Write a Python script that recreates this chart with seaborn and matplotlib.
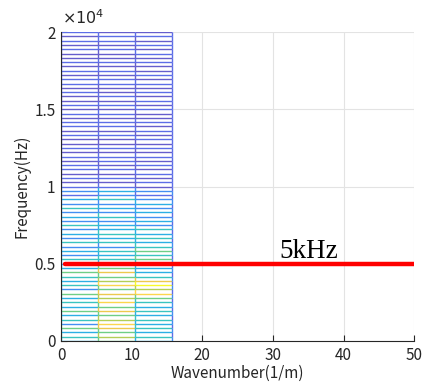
import numpy as np
import matplotlib
matplotlib.use("Agg")
import matplotlib.pyplot as plt
import seaborn as sns
from matplotlib.collections import LineCollection
from matplotlib.colors import LinearSegmentedColormap

# mesh grid: wavenumber columns and frequency rows
wavenumbers = [0.0, 5.236, 10.472, 15.708]
frequencies = np.linspace(0, 20000, 73)

# colour level (0-9) at each mesh vertex, bottom row (0 Hz) first, one string per wavenumber column
level_k0 = "343524353435243453 242324232423242312 10101 10101 00101 10101 00101 10101 00101 01"
level_k1 = "565786575867586575 343424343324232423 10101 01101 00101 10101 01001 10101 00101 10"
level_k2 = "3434343434 58697433 454543434232323212 01010 10101 01010 10010 10101 01001 01010 10"
level_k3 = "2121212121 2121212121 2121212121 212121 1111111111 1111111111 1111111111 1111111"

# 5 kHz marker line
red_k = [0.6, 50]
red_f = [5000, 5000]
label_text = "5kHz"

levels = np.array([[int(c) for c in s.replace(" ", "")]
                   for s in (level_k0, level_k1, level_k2, level_k3)]).T
assert levels.shape == (73, 4), levels.shape

parula = LinearSegmentedColormap.from_list("parula", [
    (0.0, (0.400, 0.370, 0.800)),
    (0.125, (0.360, 0.440, 0.920)),
    (0.25, (0.230, 0.600, 0.960)),
    (0.375, (0.150, 0.730, 0.860)),
    (0.5, (0.300, 0.800, 0.660)),
    (0.625, (0.600, 0.820, 0.360)),
    (0.75, (0.910, 0.780, 0.300)),
    (0.875, (0.990, 0.820, 0.320)),
    (1.0, (0.977, 0.984, 0.160)),
])

sns.set_style("whitegrid")
plt.rcParams['font.family'] = ['Noto Sans CJK JP', 'DejaVu Sans']

fig = plt.figure(figsize=(4.27, 3.87), dpi=100)
ax = fig.add_axes([0.143, 0.119, 0.827, 0.798])

segs, vals = [], []
for i, f in enumerate(frequencies):
    for j in range(3):
        segs.append([(wavenumbers[j], f), (wavenumbers[j + 1], f)])
        vals.append(levels[i, j] / 9)
for j, k in enumerate(wavenumbers):
    for i in range(len(frequencies) - 1):
        segs.append([(k, frequencies[i]), (k, frequencies[i + 1])])
        vals.append(levels[i, j] / 9)

ax.axvspan(wavenumbers[0], wavenumbers[-1], color='white', zorder=1)
lc = LineCollection(segs, cmap=parula, linewidths=1.0, zorder=2, snap=True)
lc.set_array(np.array(vals))
lc.set_clim(0, 1)
ax.add_collection(lc)

sns.lineplot(x=red_k, y=red_f, color='red', linewidth=3.2, ax=ax, zorder=3)
ax.text(30.9, 5400, label_text, fontsize=19.5, family='Liberation Serif', color='black')

ax.set_xlim(0, 50)
ax.set_ylim(0, 20000)
ax.set_xticks([0, 10, 20, 30, 40, 50])
ax.set_yticks([0, 5000, 10000, 15000, 20000])
ax.set_yticklabels(['0', '0.5', '1', '1.5', '2'])
ax.text(0.2, 20250, r'$\times 10^4$', fontsize=11.5, color='#262626', va='bottom')
ax.grid(True, color='#e3e3e3', linewidth=0.8)
for s in ['top', 'right']:
    ax.spines[s].set_visible(False)
for s in ['left', 'bottom']:
    ax.spines[s].set_color('#262626')
    ax.spines[s].set_linewidth(0.8)
ax.tick_params(direction='in', length=4, width=0.8, colors='#262626', labelsize=11,
               left=True, bottom=True, pad=4)
ax.set_xlabel('Wavenumber(1/m)', fontsize=11, color='#262626', labelpad=1)
ax.set_ylabel('Frequency(Hz)', fontsize=11, color='#262626', labelpad=3)

fig.savefig('out.png', dpi=100)
